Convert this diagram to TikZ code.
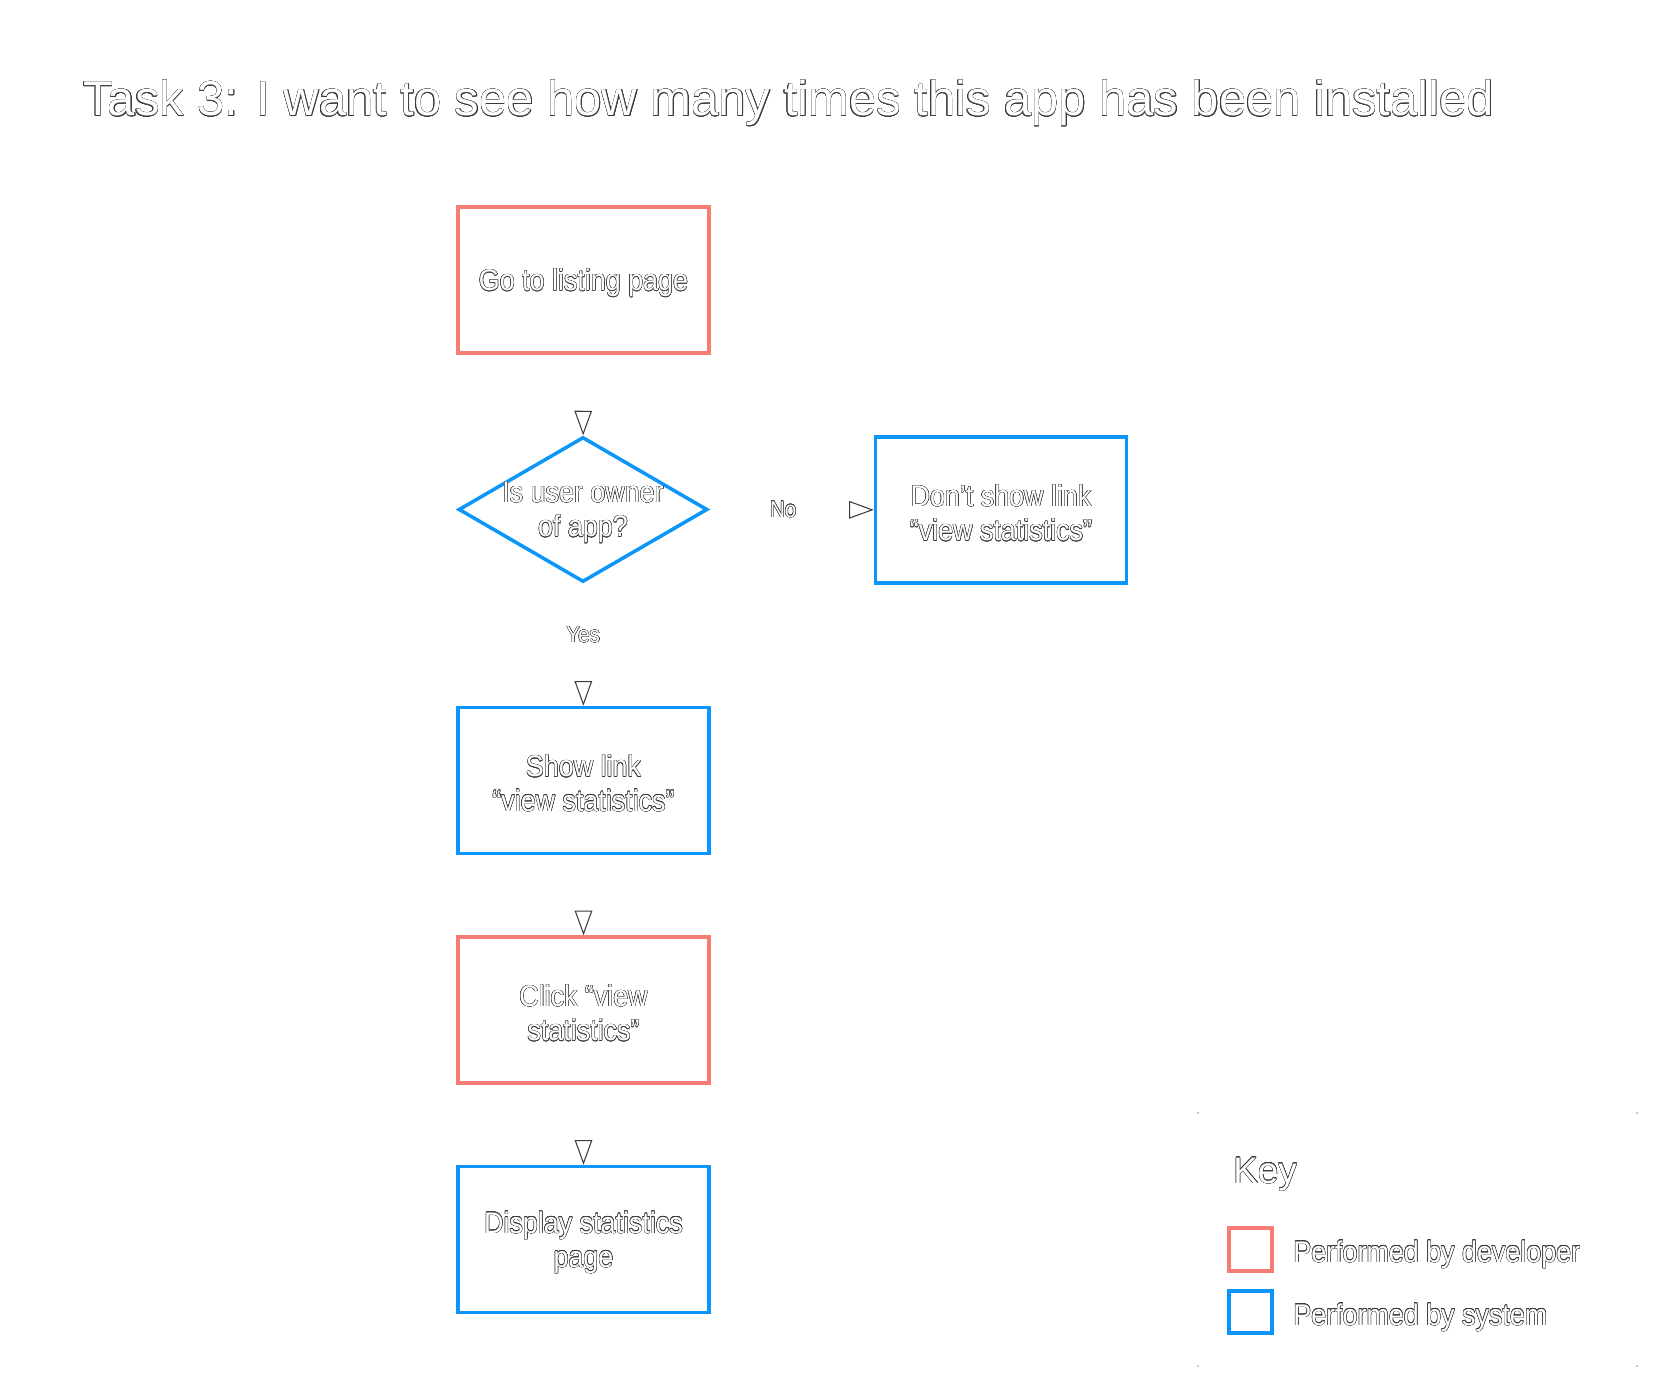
\documentclass[tikz,border=0pt]{standalone}
\usepackage{fontspec}
\setmainfont{Liberation Sans}
\newfontfamily\narrowsf[FakeStretch=0.9]{Liberation Sans}
\usepackage{contour}
\usetikzlibrary{arrows.meta,shapes.geometric}

\contourlength{0.25pt}
\contournumber{16}
\definecolor{devred}{RGB}{248,124,118}
\definecolor{sysblue}{RGB}{12,150,250}
\definecolor{edgegray}{RGB}{60,60,60}
\newcommand\olt[1]{\contour{edgegray}{#1}}
\newcommand\bxt[1]{\raisebox{-1.8pt}[\height][\depth]{\olt{#1}}}

\tikzset{
    boxtext/.style={text=white, align=center, font=\narrowsf\fontsize{17}{19.5}\selectfont},
    devbox/.style={boxtext, draw=devred, line width=2pt, minimum width=5.02cm, minimum height=2.92cm},
    sysbox/.style={boxtext, draw=sysblue, line width=2pt, minimum width=5.02cm, minimum height=2.92cm},
    decision/.style={diamond, draw=sysblue, line width=2pt, minimum width=4.98cm, minimum height=2.9cm, inner sep=0pt},
    flow/.style={draw=white, line width=0.6pt, shorten <=2pt,
        -{Triangle[open, length=14pt, width=10pt, color=edgegray, line width=0.6pt]}},
    lbl/.style={text=white, font=\narrowsf\fontsize{13}{15}\selectfont, inner sep=2pt}
}

\begin{document}
\begin{tikzpicture}[x=0.02cm, y=-0.02cm]
    \useasboundingbox (0,0) rectangle (1666,1395);

    % Title
    \node[text=white, font=\fontsize{27.85}{32}\selectfont, anchor=base west, inner sep=0pt] (title) at (83,116)
        {\olt{Task 3: I want to see how many times this app has been installed}};

    % Flow
    \node[devbox] (go) at (583.5,280) {\bxt{Go to listing page}};
    \node[decision, label={[boxtext]center:\bxt{Is user owner}\\\bxt{of app?}}] (own) at (583,509.5) {};
    \node[sysbox] (noshow) at (1001,510) {\bxt{Don’t show link}\\\bxt{“view statistics”}};
    \node[sysbox] (show) at (583.5,780.5) {\bxt{Show link}\\\bxt{“view statistics”}};
    \node[devbox] (click) at (583.5,1010) {\bxt{Click “view}\\\bxt{statistics”}};
    \node[sysbox] (disp) at (583.5,1239.5) {\bxt{Display statistics}\\\bxt{page}};

    % Connectors
    \draw[flow] (go) -- (own);
    \draw[flow] (own) -- node[lbl, pos=0.45] (no) {\olt{No}} (noshow);
    \draw[flow] (own) -- node[lbl, pos=0.42] (yes) {\olt{Yes}} (show);
    \draw[flow] (show) -- (click);
    \draw[flow] (click) -- (disp);

    % Key
    \foreach \p in {(1198,1113),(1637,1113),(1198,1366),(1637,1366)}
        \fill[black!45] \p circle (0.8);
    \node[text=white, font=\fontsize{21}{24}\selectfont, anchor=base west, inner sep=0pt] (key) at (1233,1183) {\olt{Key}};
    \draw[devred, line width=2pt] (1229,1228) rectangle (1272,1271);
    \draw[sysblue, line width=2pt] (1229,1291) rectangle (1272,1333);
    \node[lbl, font=\narrowsf\fontsize{17}{19.5}\selectfont, anchor=base west, inner sep=0pt] (keydev) at (1293,1262) {\olt{Performed by developer}};
    \node[lbl, font=\narrowsf\fontsize{17}{19.5}\selectfont, anchor=base west, inner sep=0pt] (keysys) at (1293,1325) {\olt{Performed by system}};
\end{tikzpicture}
\end{document}
